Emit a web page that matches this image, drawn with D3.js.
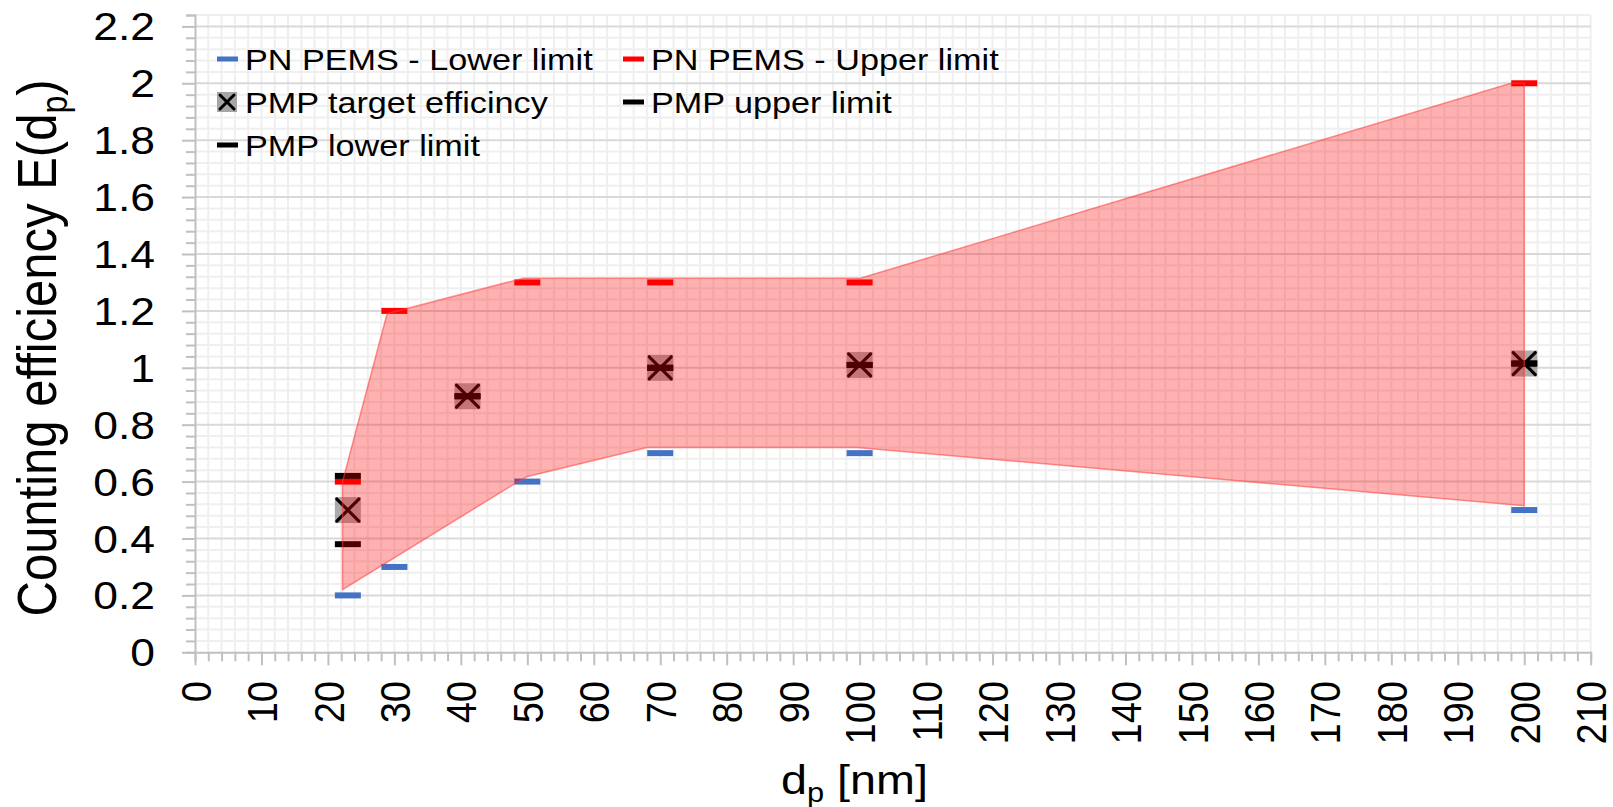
<!DOCTYPE html>
<html>
<head>
<meta charset="utf-8">
<script src="https://cdn.jsdelivr.net/npm/d3@7"></script>
<style>
  html, body { margin: 0; padding: 0; background: #fff; }
  svg { display: block; }
  text { font-family: "Liberation Sans", Arial, Helvetica, sans-serif; fill: #000; }
</style>
</head>
<body>
<svg id="chart" width="1613" height="807"></svg>
<script>
// ---- data ----
const sizes = [23, 30, 50, 70, 100, 200];                 // particle diameter, nm
const pemsLower = [0.2, 0.3, 0.6, 0.7, 0.7, 0.5];
const pemsUpper = [0.6, 1.2, 1.3, 1.3, 1.3, 2.0];

const pmpSizes = [23, 41, 70, 100, 200];
const pmpTarget = [0.5, 0.9, 1.0, 1.01, 1.015];
const pmpUpper = [0.62, 0.9, 1.0, 1.01, 1.015];
const pmpLower = [0.38, 0.9, 1.0, 1.01, 1.015];

// shaded tolerance band (upper edge left→right, then lower edge right→left)
const bandUpper = [[22.2, 0.6], [28.9, 1.19], [49.4, 1.315], [100.1, 1.315], [198, 2.0], [200, 2.0]];
const bandLower = [[200, 0.515], [99.6, 0.72], [68, 0.72], [49.9, 0.617], [48.2, 0.594], [22.2, 0.22]];

const xTicks = d3.range(0, 211, 10);
const yTicks = [0, 0.2, 0.4, 0.6, 0.8, 1, 1.2, 1.4, 1.6, 1.8, 2, 2.2];
const yTickLabels = ["0", "0.2", "0.4", "0.6", "0.8", "1", "1.2", "1.4", "1.6", "1.8", "2", "2.2"];

const legendItems = [
  { label: "PN PEMS - Lower limit", kind: "dash", color: "#4472C4", col: 0, row: 0 },
  { label: "PN PEMS - Upper limit", kind: "dash", color: "#FF0000", col: 1, row: 0 },
  { label: "PMP target efficincy", kind: "cross", color: "#000", col: 0, row: 1 },
  { label: "PMP upper limit", kind: "dash", color: "#000", col: 1, row: 1 },
  { label: "PMP lower limit", kind: "dash", color: "#000", col: 0, row: 2 }
];

// ---- layout ----
const SX = 1.14;   // horizontal text stretch
const svg = d3.select("#chart");
const x = d3.scaleLinear().domain([0, 210]).range([195, 1590.7]);
const y = d3.scaleLinear().domain([0, 2.24]).range([652.3, 15]);
const [x0, x1] = x.range();
const [y0, y1] = y.range();

// ---- grid ----
const grid = svg.append("g");
grid.selectAll(".vx").data(d3.range(2, 211, 2)).join("line")
  .attr("x1", d => x(d)).attr("x2", d => x(d))
  .attr("y1", y1).attr("y2", y0)
  .attr("stroke", "#efefef").attr("stroke-width", 2);
const minorY = d3.range(1, 57).map(i => +(i * 0.04).toFixed(2)).filter(v => Math.abs(v / 0.2 - Math.round(v / 0.2)) > 1e-6);
grid.selectAll(".hy").data(minorY).join("line")
  .attr("x1", x0).attr("x2", x1)
  .attr("y1", d => y(d)).attr("y2", d => y(d))
  .attr("stroke", "#efefef").attr("stroke-width", 2);
grid.selectAll(".hmaj").data(yTicks.filter(v => v > 0)).join("line")
  .attr("x1", x0).attr("x2", x1)
  .attr("y1", d => y(d)).attr("y2", d => y(d))
  .attr("stroke", "#d9d9d9").attr("stroke-width", 2);

// ---- axes ----
const axisColor = "#c0c0c0";
const xAxis = svg.append("g").attr("transform", `translate(0,${y0})`)
  .call(d3.axisBottom(x).tickValues(d3.range(0, 211, 2)).tickSize(9).tickFormat(""));
xAxis.selectAll(".tick line").attr("y2", d => (d % 10 === 0 ? 13 : 9));
const yAxis = svg.append("g").attr("transform", `translate(${x0},0)`)
  .call(d3.axisLeft(y).tickValues(d3.range(0, 57).map(i => i * 0.04)).tickSize(9).tickFormat(""));
yAxis.selectAll(".tick line").attr("x2", (d, i) => (i % 5 === 0 ? -13 : -9));
[xAxis, yAxis].forEach(g => {
  g.select(".domain").attr("stroke", axisColor).attr("stroke-width", 2);
  g.selectAll(".tick line").attr("stroke", axisColor).attr("stroke-width", 2);
});

// tick labels
svg.append("g").selectAll("text").data(xTicks).join("text")
  .attr("transform", d => `translate(${x(d)},681) scale(${SX},1) rotate(-90)`)
  .attr("text-anchor", "end").attr("dy", "0.36em")
  .style("font-size", "38px").text(d => d);
svg.append("g").selectAll("text").data(yTicks).join("text")
  .attr("transform", d => `translate(155,${y(d)}) scale(${SX},1)`)
  .attr("text-anchor", "end").attr("dy", "0.36em")
  .style("font-size", "39px").text((d, i) => yTickLabels[i]);

// axis titles
const yt = svg.append("text")
  .attr("transform", `translate(56,348) scale(${SX},1) rotate(-90)`)
  .attr("text-anchor", "middle").style("font-size", "49px");
yt.append("tspan").text("Counting efficiency E(d");
yt.append("tspan").attr("dy", 10).style("font-size", "32px").text("p");
yt.append("tspan").attr("dy", -10).text(")");

const xt = svg.append("text")
  .attr("transform", `translate(781,794) scale(${SX},1)`)
  .style("font-size", "41px");
xt.append("tspan").text("d");
xt.append("tspan").attr("dy", 8).style("font-size", "27px").text("p");
xt.append("tspan").attr("dy", -8).text(" [nm]");

// ---- marks ----
const DW = 26, DH = 6;
function dashes(xs, ys, color) {
  svg.append("g").selectAll("rect").data(xs.map((d, i) => [d, ys[i]])).join("rect")
    .attr("x", d => x(d[0]) - DW / 2).attr("y", d => y(d[1]) - DH / 2)
    .attr("width", DW).attr("height", DH).attr("fill", color);
}
dashes(sizes, pemsLower, "#4472C4");
dashes(sizes, pemsUpper, "#FF0000");

// PMP target: grey square with a cross
const tgt = svg.append("g").selectAll("g").data(pmpSizes.map((d, i) => [d, pmpTarget[i]])).join("g")
  .attr("transform", d => `translate(${x(d[0])},${y(d[1])})`);
tgt.append("rect").attr("x", -13).attr("y", -13).attr("width", 26).attr("height", 26)
  .attr("fill", "rgba(128,128,128,0.65)");
tgt.append("path").attr("d", "M-11,-11L11,11M-11,11L11,-11")
  .attr("stroke", "#000").attr("stroke-width", 3.2).attr("stroke-linecap", "round");

dashes(pmpSizes, pmpUpper, "#000");
dashes(pmpSizes, pmpLower, "#000");

// tolerance band drawn over the markers
svg.append("path")
  .datum(bandUpper.concat(bandLower))
  .attr("d", d3.line().x(d => x(d[0])).y(d => y(d[1])).curve(d3.curveLinearClosed))
  .attr("fill", "rgba(255,0,0,0.31)")
  .attr("stroke", "rgba(255,60,60,0.55)").attr("stroke-width", 1.5);

// ---- legend ----
const colX = [217, 623], rowY = [59, 102, 145];
const lg = svg.append("g").selectAll("g").data(legendItems).join("g")
  .attr("transform", d => `translate(${colX[d.col]},${rowY[d.row]})`);
lg.filter(d => d.kind === "dash").append("rect")
  .attr("x", 0).attr("y", -2.5).attr("width", 21).attr("height", 5)
  .attr("fill", d => d.color);
const lc = lg.filter(d => d.kind === "cross");
lc.append("rect").attr("x", 0).attr("y", -10).attr("width", 20).attr("height", 20)
  .attr("fill", "#a6a6a6");
lc.append("path").attr("d", "M3,-7L17,7M3,7L17,-7")
  .attr("stroke", "#000").attr("stroke-width", 3).attr("stroke-linecap", "round");
lg.append("text")
  .attr("transform", `translate(28,0) scale(${SX},1)`)
  .attr("dy", "0.36em").style("font-size", "30px")
  .text(d => d.label);
</script>
</body>
</html>
